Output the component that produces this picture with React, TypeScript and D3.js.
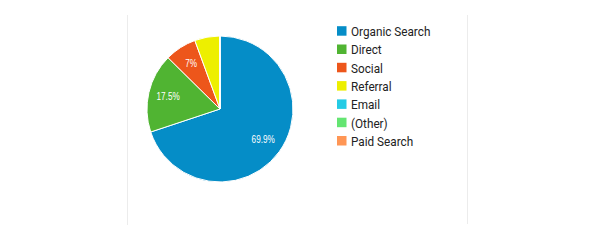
import React from "react";
import * as d3 from "d3";

const categories = ["Organic Search", "Direct", "Social", "Referral", "Email", "(Other)", "Paid Search"];
const values = [69.9, 17.5, 7.0, 5.5, 0.05, 0.03, 0.02];
const colors = ["#058dc7", "#50b432", "#ed561b", "#edef00", "#24cbe5", "#64e572", "#ff9655"];
const labels = ["69.9%", "17.5%", "7%", "", "", "", ""];

export default function App() {
  const W = 600, H = 240;
  const cx = 220, cy = 109, r = 73;
  const pie = d3.pie<number>().sort(null).value((d) => d);
  const arcs = pie(values);
  const arc = d3.arc<d3.PieArcDatum<number>>().innerRadius(0).outerRadius(r);
  const labelArc = d3.arc<d3.PieArcDatum<number>>().innerRadius(r * 0.73).outerRadius(r * 0.73);
  const legendY = d3.scaleLinear().domain([0, 1]).range([30.7, 49]);
  return (
    <svg width={W} height={H} style={{ position: "absolute", left: 0, top: 0, background: "#fff" }}>
      <line x1={127.5} x2={127.5} y1={15} y2={225} stroke="#ececec" />
      <line x1={467.5} x2={467.5} y1={15} y2={224} stroke="#ececec" />
      <g transform={`translate(${cx},${cy})`}>
        {arcs.map((a, i) => (
          <path key={i} d={arc(a) || ""} fill={colors[i]} stroke="#fff" strokeWidth={1} />
        ))}
        {arcs.map((a, i) => {
          if (!labels[i]) return null;
          const [x, y] = labelArc.centroid(a);
          return (
            <text key={i} transform={`translate(${x},${y}) scale(0.82,1)`} fill="#fff" fontSize={10} fontFamily="Arial, 'Liberation Sans', sans-serif" textAnchor="middle" dominantBaseline="central">
              {labels[i]}
            </text>
          );
        })}
      </g>
      <g>
        {categories.map((c, i) => (
          <g key={c} transform={`translate(0,${legendY(i)})`}>
            <rect x={337} y={-4.5} width={9.5} height={9.5} fill={colors[i]} />
            <text transform="translate(351,0.5) scale(0.87,1)" fontSize={13.5} fontFamily="Roboto, sans-serif" fill="#222" dominantBaseline="central">
              {c}
            </text>
          </g>
        ))}
      </g>
    </svg>
  );
}
